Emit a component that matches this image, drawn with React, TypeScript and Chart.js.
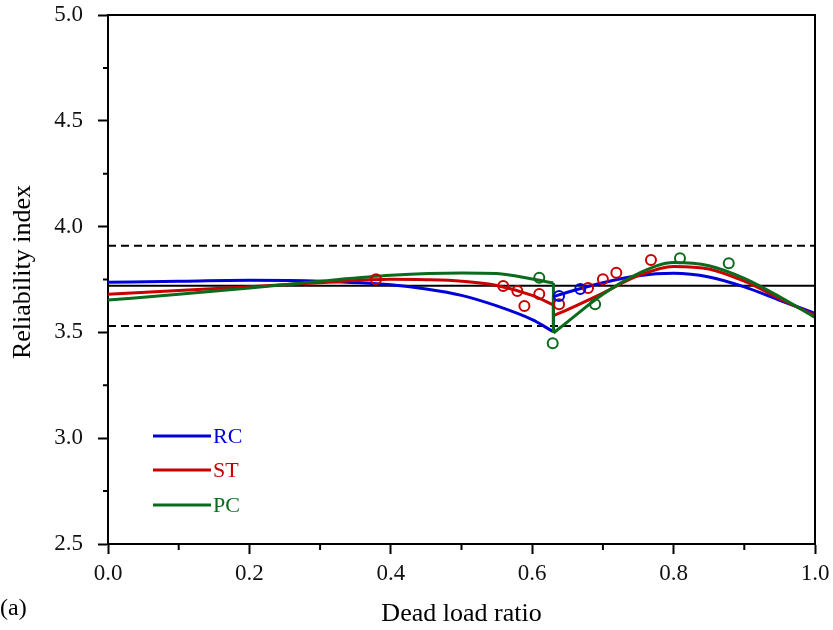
import React, { useEffect, useRef } from "react";
import { Chart, registerables } from "chart.js";
Chart.register(...registerables);

// ---- data ----
const RC_LEFT_X = [0, 0.1, 0.2, 0.3, 0.4, 0.45, 0.5, 0.55, 0.6, 0.63];
const RC_LEFT_Y = [3.737, 3.742, 3.746, 3.742, 3.725, 3.705, 3.675, 3.625, 3.56, 3.503];
const RC_RIGHT_X = [0.63, 0.65, 0.7, 0.75, 0.8, 0.85, 0.9, 0.95, 1.0];
const RC_RIGHT_Y = [3.669, 3.69, 3.735, 3.768, 3.779, 3.762, 3.715, 3.652, 3.59];

const ST_LEFT_X = [0, 0.1, 0.2, 0.3, 0.4, 0.45, 0.5, 0.55, 0.6, 0.63];
const ST_LEFT_Y = [3.68, 3.698, 3.716, 3.735, 3.751, 3.749, 3.742, 3.722, 3.675, 3.63];
const ST_RIGHT_X = [0.63, 0.65, 0.7, 0.75, 0.8, 0.85, 0.9, 0.95, 1.0];
const ST_RIGHT_Y = [3.58, 3.608, 3.686, 3.768, 3.812, 3.8, 3.742, 3.66, 3.58];

const PC_LEFT_X = [0, 0.1, 0.2, 0.3, 0.4, 0.5, 0.55, 0.6, 0.63];
const PC_LEFT_Y = [3.653, 3.68, 3.71, 3.742, 3.77, 3.781, 3.778, 3.752, 3.733];
const PC_RIGHT_X = [0.63, 0.65, 0.7, 0.75, 0.8, 0.85, 0.9, 0.95, 1.0];
const PC_RIGHT_Y = [3.497, 3.55, 3.68, 3.778, 3.83, 3.815, 3.755, 3.668, 3.571];

const RC_PTS_X = [0.638, 0.668];
const RC_PTS_Y = [3.672, 3.705];
const ST_PTS_X = [0.379, 0.559, 0.579, 0.589, 0.61, 0.638, 0.679, 0.7, 0.719, 0.768];
const ST_PTS_Y = [3.751, 3.719, 3.696, 3.625, 3.682, 3.633, 3.71, 3.751, 3.782, 3.842];
const PC_PTS_X = [0.61, 0.629, 0.689, 0.809, 0.878];
const PC_PTS_Y = [3.758, 3.449, 3.633, 3.85, 3.827];

const TARGET = 3.72;
const UPPER = 3.91;
const LOWER = 3.53;

const X_MIN = 0, X_MAX = 1.0, X_MAJOR = 0.2, X_MINOR = 0.1;
const Y_MIN = 2.5, Y_MAX = 5.0, Y_MAJOR = 0.5, Y_MINOR = 0.25;

const SERIES = ["RC", "ST", "PC"];
const COLORS = ["#0000d8", "#c80000", "#0b6b1c"];

const FONT = "'Liberation Serif', 'Times New Roman', serif";

const pts = (xs: number[], ys: number[]) => xs.map((x, i) => ({ x, y: ys[i] }));

export default function App() {
  const ref = useRef<HTMLCanvasElement | null>(null);
  useEffect(() => {
    if (!ref.current) return;
    const curve = (data: any[], color: string, order: number) => ({
      type: "line" as const,
      data,
      borderColor: color,
      borderWidth: 3,
      pointRadius: 0,
      fill: false,
      cubicInterpolationMode: "monotone" as const,
      order,
    });
    const jump = (x: number, y1: number, y2: number, color: string, order: number) => ({
      type: "line" as const,
      data: [{ x, y: y1 }, { x, y: y2 }],
      borderColor: color,
      borderWidth: 3,
      pointRadius: 0,
      fill: false,
      tension: 0,
      order,
    });
    const refLine = (y: number, dashed: boolean) => ({
      type: "line" as const,
      data: [{ x: X_MIN, y }, { x: X_MAX, y }],
      borderColor: "#000",
      borderWidth: 2,
      borderDash: dashed ? [8, 5] : [],
      pointRadius: 0,
      fill: false,
      tension: 0,
      order: 20,
    });
    const scatter = (xs: number[], ys: number[], color: string) => ({
      type: "scatter" as const,
      data: pts(xs, ys),
      borderColor: color,
      backgroundColor: "rgba(0,0,0,0)",
      borderWidth: 2,
      pointRadius: 5,
      pointStyle: "circle",
      order: 1,
    });

    const decor = {
      id: "decor",
      afterDatasetsDraw(chart: any) {
        const { ctx, chartArea, scales } = chart;
        const xs = scales.x, ys = scales.y;
        ctx.save();
        ctx.strokeStyle = "#000";
        ctx.lineWidth = 2;
        ctx.beginPath();
        ctx.moveTo(chartArea.left, chartArea.top);
        ctx.lineTo(chartArea.right, chartArea.top);
        ctx.lineTo(chartArea.right, chartArea.bottom);
        ctx.stroke();
        ctx.beginPath();
        for (let v = X_MIN + X_MINOR; v < X_MAX; v += X_MAJOR) {
          const px = xs.getPixelForValue(v);
          ctx.moveTo(px, chartArea.bottom);
          ctx.lineTo(px, chartArea.bottom + 6);
        }
        for (let v = Y_MIN + Y_MINOR; v < Y_MAX; v += Y_MAJOR) {
          const py = ys.getPixelForValue(v);
          ctx.moveTo(chartArea.left, py);
          ctx.lineTo(chartArea.left - 5, py);
        }
        ctx.stroke();
        const legendY = [436, 470, 505];
        SERIES.forEach((s, i) => {
          ctx.strokeStyle = COLORS[i];
          ctx.lineWidth = 3;
          ctx.beginPath();
          ctx.moveTo(153, legendY[i]);
          ctx.lineTo(211, legendY[i]);
          ctx.stroke();
          ctx.fillStyle = COLORS[i];
          ctx.font = `22px ${FONT}`;
          ctx.textAlign = "left";
          ctx.textBaseline = "middle";
          ctx.fillText(s, 213, legendY[i] + 1);
        });
        ctx.fillStyle = "#000";
        ctx.font = `26px ${FONT}`;
        ctx.textAlign = "center";
        ctx.textBaseline = "alphabetic";
        ctx.fillText("Dead load ratio", (chartArea.left + chartArea.right) / 2, 621);
        ctx.save();
        ctx.translate(30, 272);
        ctx.rotate(-Math.PI / 2);
        ctx.fillText("Reliability index", 0, 0);
        ctx.restore();
        ctx.textAlign = "left";
        ctx.font = `24px ${FONT}`;
        ctx.fillText("(a)", 0, 615);
        ctx.restore();
      },
    };

    const chart = new Chart(ref.current, {
      type: "line",
      data: {
        datasets: [
          refLine(UPPER, true),
          refLine(LOWER, true),
          refLine(TARGET, false),
          curve(pts(RC_LEFT_X, RC_LEFT_Y), COLORS[0], 9),
          jump(0.63, RC_LEFT_Y[RC_LEFT_Y.length - 1], RC_RIGHT_Y[0], COLORS[0], 9),
          curve(pts(RC_RIGHT_X, RC_RIGHT_Y), COLORS[0], 9),
          curve(pts(ST_LEFT_X, ST_LEFT_Y), COLORS[1], 8),
          jump(0.63, ST_LEFT_Y[ST_LEFT_Y.length - 1], ST_RIGHT_Y[0], COLORS[1], 8),
          curve(pts(ST_RIGHT_X, ST_RIGHT_Y), COLORS[1], 8),
          curve(pts(PC_LEFT_X, PC_LEFT_Y), COLORS[2], 7),
          jump(0.63, PC_LEFT_Y[PC_LEFT_Y.length - 1], PC_RIGHT_Y[0], COLORS[2], 7),
          curve(pts(PC_RIGHT_X, PC_RIGHT_Y), COLORS[2], 7),
          scatter(RC_PTS_X, RC_PTS_Y, COLORS[0]),
          scatter(ST_PTS_X, ST_PTS_Y, COLORS[1]),
          scatter(PC_PTS_X, PC_PTS_Y, COLORS[2]),
        ] as any,
      },
      options: {
        animation: false,
        responsive: false,
        devicePixelRatio: 1,
        layout: { padding: { top: 15, right: 18, left: 0, bottom: 0 } },
        plugins: { legend: { display: false }, tooltip: { enabled: false } },
        scales: {
          x: {
            type: "linear",
            min: X_MIN,
            max: X_MAX,
            afterFit: (s: any) => { s.height = 86; s.paddingLeft = 0; s.paddingRight = 0; },
            ticks: {
              stepSize: X_MAJOR,
              padding: 6,
              color: "#111",
              font: { family: FONT, size: 23 },
              callback: (v: any) => Number(v).toFixed(1),
              maxRotation: 0,
            },
            grid: { drawOnChartArea: false, tickLength: 10, tickWidth: 2, tickColor: "#000" },
            border: { color: "#000", width: 2 },
          },
          y: {
            type: "linear",
            min: Y_MIN,
            max: Y_MAX,
            afterFit: (s: any) => { s.width = 108; s.paddingTop = 0; s.paddingBottom = 0; },
            ticks: {
              stepSize: Y_MAJOR,
              padding: 15,
              color: "#111",
              font: { family: FONT, size: 23 },
              callback: (v: any) => Number(v).toFixed(1),
            },
            grid: { drawOnChartArea: false, tickLength: 10, tickWidth: 2, tickColor: "#000" },
            border: { color: "#000", width: 2 },
          },
        },
      },
      plugins: [decor],
    });
    return () => chart.destroy();
  }, []);
  return (
    <div style={{ position: "fixed", left: 0, top: 0, width: 833, height: 630, background: "#fff" }}>
      <canvas ref={ref} width={833} height={630} style={{ display: "block" }} />
    </div>
  );
}
